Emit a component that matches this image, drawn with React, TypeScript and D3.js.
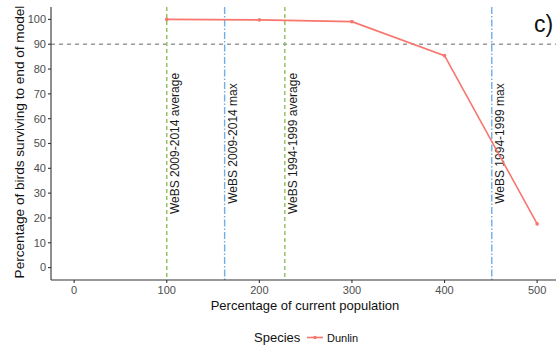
import React from "react";
import * as d3 from "d3";

const popPct = [100, 200, 300, 400, 500];
const survival = [100, 99.8, 99.1, 85.4, 17.6];
const xTicks = [0, 100, 200, 300, 400, 500];
const yTicks = [0, 10, 20, 30, 40, 50, 60, 70, 80, 90, 100];
const refLines = [
  { value: 100, label: "WeBS 2009-2014 average", kind: "avg" },
  { value: 162.5, label: "WeBS 2009-2014 max", kind: "max" },
  { value: 227.5, label: "WeBS 1994-1999 average", kind: "avg" },
  { value: 451, label: "WeBS 1994-1999 max", kind: "max" },
];
const threshold = 90;
const labelY = 50;

export default function App() {
  const W = 556, H = 354;
  const left = 51, bottom = 280, top = 7;
  const x = d3.scaleLinear().domain([-25, 525]).range([left, left + 550 * 0.926]);
  const y = d3.scaleLinear().domain([-5, 105]).range([bottom, top]);
  const line = d3.line<number>().x((_, i) => x(popPct[i])).y((d) => y(d));
  const font = "'Liberation Sans', Arial, sans-serif";
  const red = "#F8766D";
  const green = "#8DBF5A";
  const blue = "#6FAEE8";
  return (
    <div style={{ position: "fixed", left: 0, top: 0 }}>
      <svg width={W} height={H} style={{ display: "block", background: "#fff" }} fontFamily={font}>
        {/* threshold */}
        <line x1={left} x2={W} y1={y(threshold)} y2={y(threshold)} stroke="#999" strokeWidth={1.5} strokeDasharray="4,4" />
        {/* reference lines */}
        {refLines.map((r) => (
          <g key={r.label}>
            <line
              x1={x(r.value)} x2={x(r.value)} y1={top} y2={bottom}
              stroke={r.kind === "avg" ? green : blue}
              strokeWidth={1.4}
              strokeDasharray={r.kind === "avg" ? "4,3" : "7,2,1.5,2"}
            />
            <text
              transform={`translate(${x(r.value) + 12},${y(labelY)}) rotate(-90)`}
              textAnchor="middle" fontSize={12} fill="#1a1a1a"
            >{r.label}</text>
          </g>
        ))}
        {/* data */}
        <path d={line(survival) || ""} fill="none" stroke={red} strokeWidth={1.6} />
        {survival.map((v, i) => (
          <circle key={i} cx={x(popPct[i])} cy={y(v)} r={1.8} fill={red} />
        ))}
        {/* axes */}
        <line x1={left} x2={left} y1={top} y2={bottom} stroke="#333" strokeWidth={1.1} />
        <line x1={left} x2={W} y1={bottom} y2={bottom} stroke="#333" strokeWidth={1.1} />
        {yTicks.map((t) => (
          <g key={t}>
            <line x1={left - 3} x2={left} y1={y(t)} y2={y(t)} stroke="#333" strokeWidth={1.1} />
            <text x={left - 5} y={y(t)} dy="0.35em" textAnchor="end" fontSize={11} fill="#4d4d4d">{t}</text>
          </g>
        ))}
        {xTicks.map((t) => (
          <g key={t}>
            <line x1={x(t)} x2={x(t)} y1={bottom} y2={bottom + 3} stroke="#333" strokeWidth={1.1} />
            <text x={x(t)} y={bottom + 14} textAnchor="middle" fontSize={11} fill="#4d4d4d">{t}</text>
          </g>
        ))}
        <text x={305} y={310} textAnchor="middle" fontSize={13} fill="#111">Percentage of current population</text>
        <text transform={`translate(23.5,142) rotate(-90)`} textAnchor="middle" fontSize={13.6} fill="#111">
          Percentage of birds surviving to end of model
        </text>
        {/* legend */}
        <text x={254} y={342} fontSize={13} fill="#111">Species</text>
        <line x1={307} x2={323} y1={337.5} y2={337.5} stroke={red} strokeWidth={1.6} />
        <circle cx={315} cy={337.5} r={1.8} fill={red} />
        <text x={327} y={341.5} fontSize={11} fill="#111">Dunlin</text>
        {/* panel label */}
        <text x={534} y={32} fontSize={23} fill="#111">c)</text>
      </svg>
    </div>
  );
}
